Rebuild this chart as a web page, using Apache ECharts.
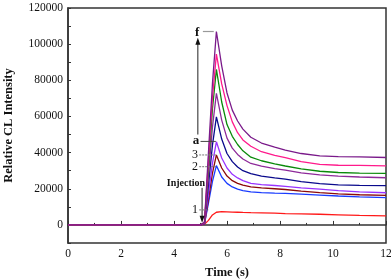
<!DOCTYPE html>
<html>
<head>
<meta charset="utf-8">
<script src="https://cdn.jsdelivr.net/npm/echarts@6/dist/echarts.min.js"></script>
<style>
  html, body { margin: 0; padding: 0; background: #fff; }
  #main { width: 391px; height: 280px; }
</style>
</head>
<body>
<div id="main"></div>
<script>
// time axis (s) shared by all curves
const times = [0, 5.0, 5.15, 5.3, 5.45, 5.6, 5.8, 6.0, 6.2, 6.4, 6.6, 6.9, 7.3, 7.8, 8.2, 8.8, 9.5, 10.2, 11, 12];

// relative CL intensity
const curve1 = [0, 0, 300, 2500, 5500, 7000, 7300, 7200, 7100, 7000, 6900, 6800, 6700, 6500, 6300, 6100, 5900, 5600, 5300, 5000];
const curve2 = [0, 0, 500, 12000, 24000, 32800, 26500, 23000, 21000, 19800, 19000, 18300, 17900, 17600, 17400, 17000, 16500, 16000, 15500, 15100];
const curve3 = [0, 0, 600, 14000, 28500, 38700, 31500, 27000, 24500, 23000, 22000, 21100, 20500, 20000, 19600, 18700, 17900, 17200, 16700, 16300];
const curveA = [0, 0, 700, 17000, 34000, 46000, 37000, 31500, 28000, 26000, 24500, 23000, 22300, 21800, 21300, 20500, 19800, 19000, 18300, 17800];
const curveB = [0, 0, 900, 22000, 44000, 59800, 47500, 39500, 35000, 32000, 30000, 28400, 27000, 26000, 25300, 24000, 22800, 22200, 21900, 21700];
const curveC = [0, 0, 1000, 27000, 54000, 72800, 58000, 48000, 42500, 39000, 36500, 34000, 32500, 31200, 30300, 28800, 27700, 27000, 26500, 26100];
const curveD = [0, 0, 1200, 32000, 64000, 86000, 68000, 55500, 49000, 44500, 41000, 37500, 35500, 33800, 32600, 31000, 29700, 29000, 28700, 28500];
const curveE = [0, 0, 1300, 36000, 70000, 94500, 78000, 66000, 57000, 51000, 47000, 43500, 40500, 38500, 37200, 35000, 33500, 33000, 32900, 32700];
const curveF = [0, 0, 1500, 40000, 78000, 107000, 88000, 73000, 63500, 57500, 53000, 48500, 45300, 43000, 41400, 39500, 38200, 37800, 37600, 37300];

const curveNames = ['1', '2', '3', 'a', 'b', 'c', 'd', 'e', 'f'];
const curveData = [curve1, curve2, curve3, curveA, curveB, curveC, curveD, curveE, curveF];
const curveColors = ['#ff1a1a', '#1a3cff', '#8b0a0a', '#9933ff', '#0a0a8c', '#8e2a9a', '#0a8a0a', '#ff1a8c', '#7a1a8a'];

const xTicks = [0, 2, 4, 6, 8, 10, 12];

const serif = "'Liberation Serif', 'Times New Roman', serif";
const chart = echarts.init(document.getElementById('main'), null, { renderer: 'canvas' });

chart.setOption({
  animation: false,
  grid: { left: 68, right: 5, top: 8, bottom: 37, outerBoundsMode: 'none', containLabel: false,
    show: true, borderColor: '#333', borderWidth: 1.5, backgroundColor: 'transparent' },
  xAxis: {
    type: 'value', min: 0, max: 12, interval: 2,
    name: 'Time (s)', nameLocation: 'center', nameGap: 23,
    nameTextStyle: { fontFamily: serif, fontWeight: 'bold', fontSize: 12.5, color: '#111' },
    axisLine: { lineStyle: { color: '#333', width: 1.5 } },
    axisTick: { inside: true, length: 4, lineStyle: { color: '#333' } },
    minorTick: { show: true, splitNumber: 2, length: 2, lineStyle: { color: '#333' } },
    axisLabel: { fontFamily: serif, fontSize: 11.5, color: '#111', margin: 5,
      formatter: v => xTicks.includes(v) ? String(v) : '' },
    splitLine: { show: false }
  },
  yAxis: {
    type: 'value', min: -10000, max: 120000, interval: 10000,
    name: 'Relative CL Intensity', nameLocation: 'center', nameGap: 53,
    nameTextStyle: { fontFamily: serif, fontWeight: 'bold', fontSize: 12.5, color: '#111' },
    axisLine: { lineStyle: { color: '#333', width: 1.5 } },
    axisTick: { inside: true, length: 3, lineStyle: { color: '#333' } },
    axisLabel: { fontFamily: serif, fontSize: 11.5, color: '#111', margin: 5,
      formatter: v => (v >= 0 && v % 20000 === 0) ? String(v) : '' },
    splitLine: { show: false }
  },
  series: curveData.map((arr, k) => ({
    name: curveNames[k],
    type: 'line',
    symbol: 'none',
    lineStyle: { width: 1.3, color: curveColors[k] },
    itemStyle: { color: curveColors[k] },
    z: 2 + k,
    data: times.map((t, i) => [t, arr[i]])
  }))
});

// annotations placed in data coordinates
function px(t, v) { return chart.convertToPixel({ gridIndex: 0 }, [t, v]); }
function text(t, v, str, opts) {
  const p = px(t, v);
  return { type: 'text', x: p[0], y: p[1], z: 20, silent: true,
    style: Object.assign({ text: str, fontFamily: serif, fontSize: 12, fill: '#111', align: 'center', verticalAlign: 'middle' }, opts || {}) };
}
function seg(t1, v1, t2, v2, stroke, dash, w) {
  const a = px(t1, v1), b = px(t2, v2);
  return { type: 'line', z: 20, silent: true, shape: { x1: a[0], y1: a[1], x2: b[0], y2: b[1] },
    style: { stroke: stroke, lineWidth: w || 1, lineDash: dash || null } };
}
function arrowHead(t, v, dir) {
  const p = px(t, v);
  const s = dir === 'up' ? 1 : -1;
  return { type: 'polygon', z: 20, silent: true,
    shape: { points: [[p[0], p[1]], [p[0] - 2.5, p[1] + s * 7], [p[0] + 2.5, p[1] + s * 7]] },
    style: { fill: '#111' } };
}

chart.setOption({
  graphic: [
    text(4.87, 106600, 'f', { fontWeight: 'bold', fontSize: 13 }),
    seg(5.09, 107000, 5.5, 107000, '#999', null, 1.2),
    seg(4.9, 102000, 4.9, 50000, '#222', null, 1),
    arrowHead(4.9, 103500, 'up'),
    text(4.83, 46400, 'a', { fontWeight: 'bold', fontSize: 13 }),
    seg(5.0, 46200, 5.58, 46200, '#444', null, 1),
    text(4.79, 38700, '3'),
    seg(4.95, 38700, 5.58, 38700, '#777', [2, 1], 1),
    text(4.79, 32200, '2'),
    seg(4.95, 32200, 5.58, 32200, '#777', [2, 1], 1),
    text(4.45, 23200, 'Injection', { fontWeight: 'bold', fontSize: 10 }),
    seg(5.06, 20500, 5.06, 3000, '#222', null, 1),
    arrowHead(5.06, 1200, 'down'),
    text(4.79, 8300, '1'),
    seg(4.95, 8300, 5.3, 8300, '#777', [2, 1], 1)
  ]
});
</script>
</body>
</html>
